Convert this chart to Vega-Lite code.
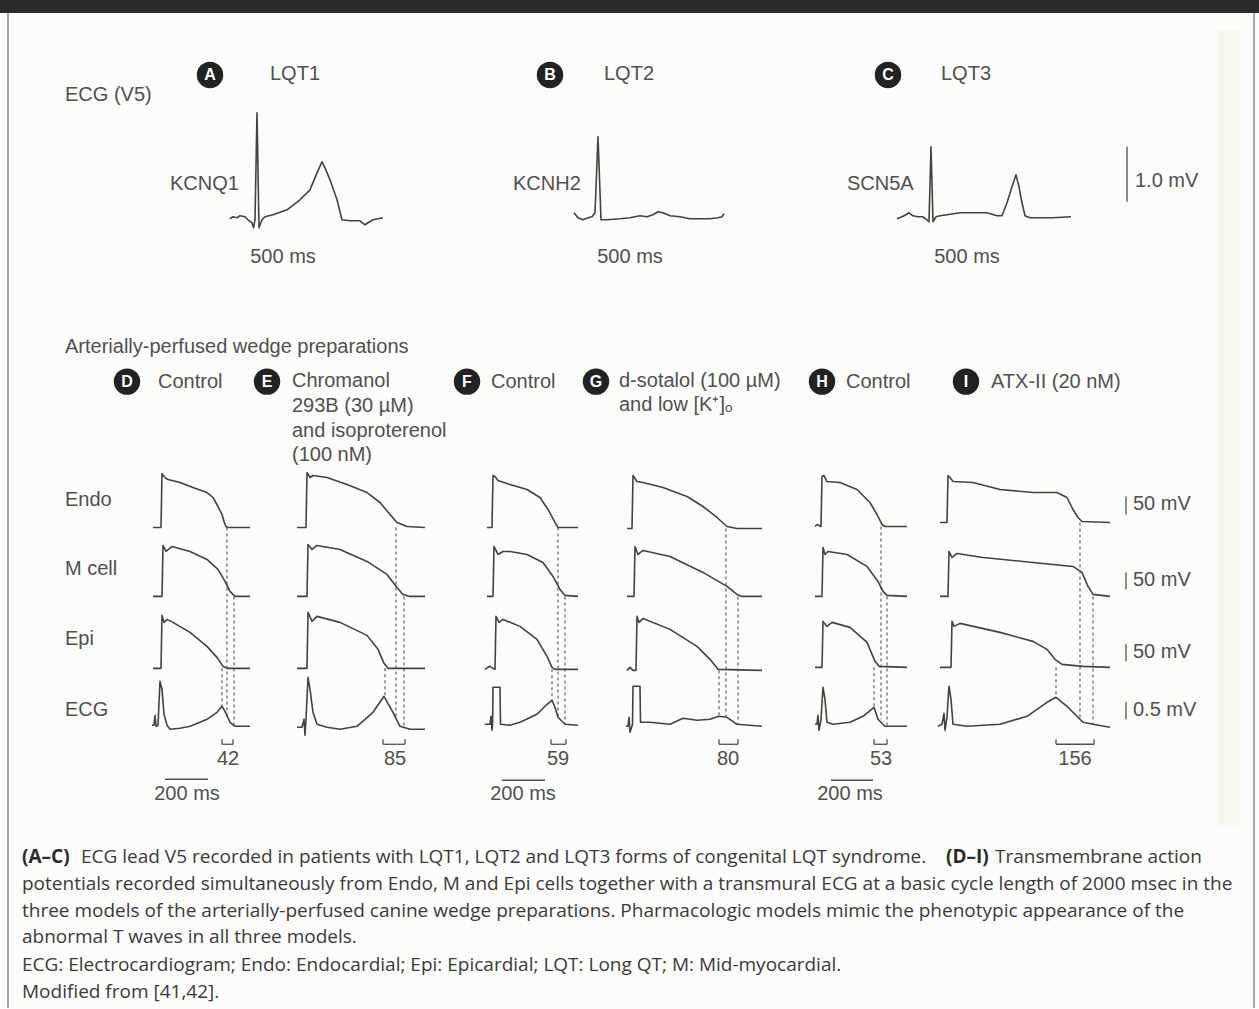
{
  "$schema": "https://vega.github.io/schema/vega-lite/v6.json",
  "width": 1259,
  "height": 1009,
  "autosize": {"type": "fit", "contains": "padding"},
  "padding": 0,
  "background": "#fcfcfa",
  "view": {"stroke": null},
  "config": {"axis": {"disable": true}},
  "datasets": {
    "bands": [
      {"k": "header", "x": 0, "x2": 1259, "y": 0, "y2": 13},
      {"k": "stripe", "x": 1217, "x2": 1240, "y": 30, "y2": 826}
    ],
    "frame": [
      {"x": 8, "x2": 8, "y": 13, "y2": 1009},
      {"x": 1254, "x2": 1254, "y": 13, "y2": 1009}
    ],
    "segs": [
      {"x": 1127, "x2": 1127, "y": 147, "y2": 202},
      {"x": 1126, "x2": 1126, "y": 497, "y2": 515},
      {"x": 1126, "x2": 1126, "y": 573, "y2": 590},
      {"x": 1126, "x2": 1126, "y": 645, "y2": 662},
      {"x": 1126, "x2": 1126, "y": 703, "y2": 720},
      {"x": 165, "x2": 208, "y": 780, "y2": 780},
      {"x": 502, "x2": 545, "y": 781, "y2": 781},
      {"x": 831, "x2": 873, "y": 781, "y2": 781},
      {"x": 222, "x2": 233, "y": 745, "y2": 745},
      {"x": 222, "x2": 222, "y": 740, "y2": 745},
      {"x": 233, "x2": 233, "y": 740, "y2": 745},
      {"x": 383, "x2": 405, "y": 745, "y2": 745},
      {"x": 383, "x2": 383, "y": 740, "y2": 745},
      {"x": 405, "x2": 405, "y": 740, "y2": 745},
      {"x": 551, "x2": 566, "y": 745, "y2": 745},
      {"x": 551, "x2": 551, "y": 740, "y2": 745},
      {"x": 566, "x2": 566, "y": 740, "y2": 745},
      {"x": 719, "x2": 738, "y": 745, "y2": 745},
      {"x": 719, "x2": 719, "y": 740, "y2": 745},
      {"x": 738, "x2": 738, "y": 740, "y2": 745},
      {"x": 874, "x2": 887, "y": 745, "y2": 745},
      {"x": 874, "x2": 874, "y": 740, "y2": 745},
      {"x": 887, "x2": 887, "y": 740, "y2": 745},
      {"x": 1056, "x2": 1094, "y": 745, "y2": 745},
      {"x": 1056, "x2": 1056, "y": 740, "y2": 745},
      {"x": 1094, "x2": 1094, "y": 740, "y2": 745}
    ],
    "dashes": [
      {"x": 222, "y": 669, "y2": 707},
      {"x": 227, "y": 528, "y2": 718},
      {"x": 234, "y": 597, "y2": 727},
      {"x": 385, "y": 669, "y2": 697},
      {"x": 396, "y": 528, "y2": 718},
      {"x": 404, "y": 597, "y2": 729},
      {"x": 552, "y": 670, "y2": 701},
      {"x": 558, "y": 528, "y2": 718},
      {"x": 565, "y": 597, "y2": 725},
      {"x": 719, "y": 671, "y2": 717},
      {"x": 726, "y": 529, "y2": 718},
      {"x": 738, "y": 597, "y2": 725},
      {"x": 874, "y": 668, "y2": 708},
      {"x": 881, "y": 527, "y2": 720},
      {"x": 887, "y": 597, "y2": 727},
      {"x": 1056, "y": 668, "y2": 698},
      {"x": 1080, "y": 523, "y2": 721},
      {"x": 1093, "y": 597, "y2": 725}
    ],
    "traces": [
      {"g": "A", "x": 230, "y": 219}, {"g": "A", "x": 233, "y": 217}, {"g": "A", "x": 237, "y": 218}, {"g": "A", "x": 240, "y": 216}, {"g": "A", "x": 245, "y": 217}, {"g": "A", "x": 248, "y": 220}, {"g": "A", "x": 252, "y": 223}, {"g": "A", "x": 253.5, "y": 228}, {"g": "A", "x": 255, "y": 220}, {"g": "A", "x": 257, "y": 113}, {"g": "A", "x": 259, "y": 228}, {"g": "A", "x": 262, "y": 220}, {"g": "A", "x": 265, "y": 217}, {"g": "A", "x": 273, "y": 215}, {"g": "A", "x": 287, "y": 210}, {"g": "A", "x": 300, "y": 200}, {"g": "A", "x": 310, "y": 190}, {"g": "A", "x": 317, "y": 173}, {"g": "A", "x": 322, "y": 162}, {"g": "A", "x": 325, "y": 168}, {"g": "A", "x": 330, "y": 180}, {"g": "A", "x": 337, "y": 200}, {"g": "A", "x": 342, "y": 220}, {"g": "A", "x": 350, "y": 221}, {"g": "A", "x": 360, "y": 221}, {"g": "A", "x": 365, "y": 225}, {"g": "A", "x": 368, "y": 223}, {"g": "A", "x": 373, "y": 220}, {"g": "A", "x": 383, "y": 218},
      {"g": "B", "x": 574, "y": 213}, {"g": "B", "x": 578, "y": 218}, {"g": "B", "x": 583, "y": 220}, {"g": "B", "x": 588, "y": 218}, {"g": "B", "x": 592, "y": 217}, {"g": "B", "x": 595, "y": 213}, {"g": "B", "x": 598, "y": 137}, {"g": "B", "x": 601, "y": 220}, {"g": "B", "x": 607, "y": 220}, {"g": "B", "x": 620, "y": 219}, {"g": "B", "x": 630, "y": 218}, {"g": "B", "x": 640, "y": 216}, {"g": "B", "x": 647, "y": 217}, {"g": "B", "x": 653, "y": 215}, {"g": "B", "x": 658, "y": 212}, {"g": "B", "x": 663, "y": 213}, {"g": "B", "x": 670, "y": 216}, {"g": "B", "x": 680, "y": 217}, {"g": "B", "x": 690, "y": 219}, {"g": "B", "x": 700, "y": 219}, {"g": "B", "x": 710, "y": 219}, {"g": "B", "x": 718, "y": 218}, {"g": "B", "x": 722, "y": 217}, {"g": "B", "x": 724, "y": 214},
      {"g": "C", "x": 897, "y": 219}, {"g": "C", "x": 902, "y": 217}, {"g": "C", "x": 906, "y": 215}, {"g": "C", "x": 909, "y": 213}, {"g": "C", "x": 913, "y": 216}, {"g": "C", "x": 918, "y": 217}, {"g": "C", "x": 923, "y": 217}, {"g": "C", "x": 927, "y": 220}, {"g": "C", "x": 929, "y": 222}, {"g": "C", "x": 931, "y": 147}, {"g": "C", "x": 933, "y": 222}, {"g": "C", "x": 936, "y": 217}, {"g": "C", "x": 940, "y": 216}, {"g": "C", "x": 947, "y": 215}, {"g": "C", "x": 960, "y": 213}, {"g": "C", "x": 973, "y": 213}, {"g": "C", "x": 987, "y": 213}, {"g": "C", "x": 997, "y": 216}, {"g": "C", "x": 1002, "y": 216}, {"g": "C", "x": 1007, "y": 203}, {"g": "C", "x": 1012, "y": 187}, {"g": "C", "x": 1016, "y": 175}, {"g": "C", "x": 1019, "y": 187}, {"g": "C", "x": 1022, "y": 203}, {"g": "C", "x": 1025, "y": 216}, {"g": "C", "x": 1030, "y": 218}, {"g": "C", "x": 1040, "y": 218}, {"g": "C", "x": 1053, "y": 218}, {"g": "C", "x": 1071, "y": 217},

      {"g": "D1", "x": 153, "y": 528}, {"g": "D1", "x": 161, "y": 528}, {"g": "D1", "x": 162, "y": 474}, {"g": "D1", "x": 164, "y": 477}, {"g": "D1", "x": 166, "y": 479}, {"g": "D1", "x": 168, "y": 480}, {"g": "D1", "x": 180, "y": 483}, {"g": "D1", "x": 193, "y": 488}, {"g": "D1", "x": 207, "y": 493}, {"g": "D1", "x": 213, "y": 498}, {"g": "D1", "x": 218, "y": 507}, {"g": "D1", "x": 222, "y": 515}, {"g": "D1", "x": 224, "y": 522}, {"g": "D1", "x": 226, "y": 527}, {"g": "D1", "x": 228, "y": 528}, {"g": "D1", "x": 250, "y": 528},
      {"g": "D2", "x": 153, "y": 597}, {"g": "D2", "x": 162, "y": 597}, {"g": "D2", "x": 163, "y": 546}, {"g": "D2", "x": 166, "y": 552}, {"g": "D2", "x": 172, "y": 547}, {"g": "D2", "x": 190, "y": 552}, {"g": "D2", "x": 207, "y": 560}, {"g": "D2", "x": 218, "y": 570}, {"g": "D2", "x": 225, "y": 582}, {"g": "D2", "x": 230, "y": 592}, {"g": "D2", "x": 235, "y": 597}, {"g": "D2", "x": 250, "y": 597},
      {"g": "D3", "x": 153, "y": 669}, {"g": "D3", "x": 161, "y": 669}, {"g": "D3", "x": 162, "y": 616}, {"g": "D3", "x": 164, "y": 623}, {"g": "D3", "x": 167, "y": 620}, {"g": "D3", "x": 173, "y": 623}, {"g": "D3", "x": 190, "y": 633}, {"g": "D3", "x": 207, "y": 647}, {"g": "D3", "x": 217, "y": 658}, {"g": "D3", "x": 223, "y": 667}, {"g": "D3", "x": 227, "y": 669}, {"g": "D3", "x": 250, "y": 669},
      {"g": "D4", "x": 152, "y": 726}, {"g": "D4", "x": 154, "y": 726}, {"g": "D4", "x": 155, "y": 716}, {"g": "D4", "x": 156, "y": 727}, {"g": "D4", "x": 158, "y": 726}, {"g": "D4", "x": 160, "y": 682}, {"g": "D4", "x": 162, "y": 690}, {"g": "D4", "x": 164, "y": 715}, {"g": "D4", "x": 167, "y": 726}, {"g": "D4", "x": 170, "y": 730}, {"g": "D4", "x": 180, "y": 729}, {"g": "D4", "x": 190, "y": 727}, {"g": "D4", "x": 200, "y": 723}, {"g": "D4", "x": 207, "y": 720}, {"g": "D4", "x": 217, "y": 713}, {"g": "D4", "x": 222, "y": 707}, {"g": "D4", "x": 225, "y": 712}, {"g": "D4", "x": 230, "y": 723}, {"g": "D4", "x": 235, "y": 727}, {"g": "D4", "x": 250, "y": 727},

      {"g": "E1", "x": 297, "y": 528}, {"g": "E1", "x": 306, "y": 528}, {"g": "E1", "x": 307, "y": 473}, {"g": "E1", "x": 310, "y": 478}, {"g": "E1", "x": 313, "y": 476}, {"g": "E1", "x": 327, "y": 478}, {"g": "E1", "x": 347, "y": 485}, {"g": "E1", "x": 367, "y": 493}, {"g": "E1", "x": 380, "y": 503}, {"g": "E1", "x": 390, "y": 515}, {"g": "E1", "x": 397, "y": 523}, {"g": "E1", "x": 407, "y": 527}, {"g": "E1", "x": 425, "y": 528},
      {"g": "E2", "x": 297, "y": 597}, {"g": "E2", "x": 307, "y": 597}, {"g": "E2", "x": 308, "y": 545}, {"g": "E2", "x": 312, "y": 550}, {"g": "E2", "x": 317, "y": 546}, {"g": "E2", "x": 340, "y": 550}, {"g": "E2", "x": 367, "y": 562}, {"g": "E2", "x": 387, "y": 575}, {"g": "E2", "x": 397, "y": 588}, {"g": "E2", "x": 403, "y": 595}, {"g": "E2", "x": 410, "y": 597}, {"g": "E2", "x": 425, "y": 597},
      {"g": "E3", "x": 297, "y": 669}, {"g": "E3", "x": 307, "y": 669}, {"g": "E3", "x": 308, "y": 613}, {"g": "E3", "x": 312, "y": 622}, {"g": "E3", "x": 317, "y": 617}, {"g": "E3", "x": 340, "y": 623}, {"g": "E3", "x": 367, "y": 636}, {"g": "E3", "x": 378, "y": 650}, {"g": "E3", "x": 384, "y": 664}, {"g": "E3", "x": 388, "y": 669}, {"g": "E3", "x": 425, "y": 669},
      {"g": "E4", "x": 297, "y": 728}, {"g": "E4", "x": 302, "y": 728}, {"g": "E4", "x": 304, "y": 720}, {"g": "E4", "x": 305, "y": 736}, {"g": "E4", "x": 306, "y": 720}, {"g": "E4", "x": 308, "y": 678}, {"g": "E4", "x": 310, "y": 690}, {"g": "E4", "x": 313, "y": 713}, {"g": "E4", "x": 317, "y": 725}, {"g": "E4", "x": 327, "y": 728}, {"g": "E4", "x": 340, "y": 730}, {"g": "E4", "x": 357, "y": 727}, {"g": "E4", "x": 373, "y": 713}, {"g": "E4", "x": 384, "y": 697}, {"g": "E4", "x": 393, "y": 713}, {"g": "E4", "x": 400, "y": 727}, {"g": "E4", "x": 410, "y": 730}, {"g": "E4", "x": 425, "y": 730},

      {"g": "F1", "x": 487, "y": 528}, {"g": "F1", "x": 492, "y": 528}, {"g": "F1", "x": 493, "y": 476}, {"g": "F1", "x": 495, "y": 477}, {"g": "F1", "x": 498, "y": 481}, {"g": "F1", "x": 510, "y": 485}, {"g": "F1", "x": 527, "y": 490}, {"g": "F1", "x": 540, "y": 498}, {"g": "F1", "x": 548, "y": 510}, {"g": "F1", "x": 555, "y": 523}, {"g": "F1", "x": 558, "y": 528}, {"g": "F1", "x": 578, "y": 528},
      {"g": "F2", "x": 487, "y": 597}, {"g": "F2", "x": 493, "y": 597}, {"g": "F2", "x": 494, "y": 547}, {"g": "F2", "x": 498, "y": 555}, {"g": "F2", "x": 503, "y": 552}, {"g": "F2", "x": 510, "y": 552}, {"g": "F2", "x": 527, "y": 555}, {"g": "F2", "x": 543, "y": 563}, {"g": "F2", "x": 553, "y": 577}, {"g": "F2", "x": 560, "y": 590}, {"g": "F2", "x": 565, "y": 596}, {"g": "F2", "x": 578, "y": 597},
      {"g": "F3", "x": 485, "y": 670}, {"g": "F3", "x": 488, "y": 668}, {"g": "F3", "x": 490, "y": 667}, {"g": "F3", "x": 493, "y": 669}, {"g": "F3", "x": 495, "y": 670}, {"g": "F3", "x": 496, "y": 617}, {"g": "F3", "x": 499, "y": 623}, {"g": "F3", "x": 503, "y": 620}, {"g": "F3", "x": 520, "y": 627}, {"g": "F3", "x": 537, "y": 640}, {"g": "F3", "x": 547, "y": 657}, {"g": "F3", "x": 552, "y": 668}, {"g": "F3", "x": 555, "y": 670}, {"g": "F3", "x": 578, "y": 670},
      {"g": "F4", "x": 485, "y": 725}, {"g": "F4", "x": 490, "y": 725}, {"g": "F4", "x": 491, "y": 717}, {"g": "F4", "x": 492, "y": 731}, {"g": "F4", "x": 492.6, "y": 725}, {"g": "F4", "x": 493, "y": 688}, {"g": "F4", "x": 500, "y": 688}, {"g": "F4", "x": 500.5, "y": 725}, {"g": "F4", "x": 510, "y": 726}, {"g": "F4", "x": 520, "y": 723}, {"g": "F4", "x": 537, "y": 715}, {"g": "F4", "x": 547, "y": 705}, {"g": "F4", "x": 552, "y": 701}, {"g": "F4", "x": 555, "y": 708}, {"g": "F4", "x": 558, "y": 718}, {"g": "F4", "x": 565, "y": 725}, {"g": "F4", "x": 578, "y": 726},

      {"g": "G1", "x": 627, "y": 529}, {"g": "G1", "x": 632, "y": 529}, {"g": "G1", "x": 633, "y": 476}, {"g": "G1", "x": 637, "y": 482}, {"g": "G1", "x": 643, "y": 483}, {"g": "G1", "x": 663, "y": 488}, {"g": "G1", "x": 687, "y": 497}, {"g": "G1", "x": 703, "y": 507}, {"g": "G1", "x": 717, "y": 518}, {"g": "G1", "x": 727, "y": 527}, {"g": "G1", "x": 737, "y": 529}, {"g": "G1", "x": 762, "y": 529},
      {"g": "G2", "x": 627, "y": 597}, {"g": "G2", "x": 634, "y": 597}, {"g": "G2", "x": 635, "y": 547}, {"g": "G2", "x": 638, "y": 555}, {"g": "G2", "x": 643, "y": 551}, {"g": "G2", "x": 670, "y": 557}, {"g": "G2", "x": 703, "y": 573}, {"g": "G2", "x": 727, "y": 587}, {"g": "G2", "x": 737, "y": 595}, {"g": "G2", "x": 742, "y": 597}, {"g": "G2", "x": 762, "y": 597},
      {"g": "G3", "x": 627, "y": 671}, {"g": "G3", "x": 630, "y": 668}, {"g": "G3", "x": 633, "y": 671}, {"g": "G3", "x": 636, "y": 671}, {"g": "G3", "x": 637, "y": 617}, {"g": "G3", "x": 639, "y": 623}, {"g": "G3", "x": 643, "y": 619}, {"g": "G3", "x": 670, "y": 630}, {"g": "G3", "x": 697, "y": 647}, {"g": "G3", "x": 710, "y": 660}, {"g": "G3", "x": 718, "y": 670}, {"g": "G3", "x": 762, "y": 671},
      {"g": "G4", "x": 626, "y": 727}, {"g": "G4", "x": 628, "y": 727}, {"g": "G4", "x": 629, "y": 718}, {"g": "G4", "x": 630, "y": 733}, {"g": "G4", "x": 632.5, "y": 725}, {"g": "G4", "x": 633, "y": 687}, {"g": "G4", "x": 640, "y": 687}, {"g": "G4", "x": 640.5, "y": 723}, {"g": "G4", "x": 650, "y": 723}, {"g": "G4", "x": 670, "y": 725}, {"g": "G4", "x": 683, "y": 719}, {"g": "G4", "x": 697, "y": 721}, {"g": "G4", "x": 710, "y": 720}, {"g": "G4", "x": 719, "y": 717}, {"g": "G4", "x": 727, "y": 718}, {"g": "G4", "x": 737, "y": 725}, {"g": "G4", "x": 762, "y": 727},

      {"g": "H1", "x": 815, "y": 527}, {"g": "H1", "x": 817, "y": 525}, {"g": "H1", "x": 821, "y": 527}, {"g": "H1", "x": 822, "y": 477}, {"g": "H1", "x": 824, "y": 476}, {"g": "H1", "x": 827, "y": 482}, {"g": "H1", "x": 840, "y": 483}, {"g": "H1", "x": 857, "y": 490}, {"g": "H1", "x": 870, "y": 503}, {"g": "H1", "x": 877, "y": 515}, {"g": "H1", "x": 882, "y": 525}, {"g": "H1", "x": 885, "y": 527}, {"g": "H1", "x": 907, "y": 527},
      {"g": "H2", "x": 815, "y": 597}, {"g": "H2", "x": 822, "y": 597}, {"g": "H2", "x": 823, "y": 548}, {"g": "H2", "x": 825, "y": 555}, {"g": "H2", "x": 828, "y": 552}, {"g": "H2", "x": 847, "y": 555}, {"g": "H2", "x": 867, "y": 567}, {"g": "H2", "x": 878, "y": 582}, {"g": "H2", "x": 883, "y": 592}, {"g": "H2", "x": 887, "y": 596}, {"g": "H2", "x": 907, "y": 597},
      {"g": "H3", "x": 815, "y": 668}, {"g": "H3", "x": 822, "y": 668}, {"g": "H3", "x": 823, "y": 622}, {"g": "H3", "x": 827, "y": 627}, {"g": "H3", "x": 832, "y": 623}, {"g": "H3", "x": 850, "y": 628}, {"g": "H3", "x": 867, "y": 643}, {"g": "H3", "x": 875, "y": 662}, {"g": "H3", "x": 879, "y": 667}, {"g": "H3", "x": 907, "y": 668},
      {"g": "H4", "x": 815, "y": 725}, {"g": "H4", "x": 817, "y": 725}, {"g": "H4", "x": 818, "y": 716}, {"g": "H4", "x": 819, "y": 731}, {"g": "H4", "x": 821, "y": 720}, {"g": "H4", "x": 823, "y": 688}, {"g": "H4", "x": 825, "y": 700}, {"g": "H4", "x": 827, "y": 723}, {"g": "H4", "x": 833, "y": 725}, {"g": "H4", "x": 850, "y": 723}, {"g": "H4", "x": 863, "y": 717}, {"g": "H4", "x": 874, "y": 708}, {"g": "H4", "x": 878, "y": 720}, {"g": "H4", "x": 885, "y": 727}, {"g": "H4", "x": 907, "y": 727},

      {"g": "I1", "x": 940, "y": 523}, {"g": "I1", "x": 947, "y": 523}, {"g": "I1", "x": 948, "y": 476}, {"g": "I1", "x": 950, "y": 478}, {"g": "I1", "x": 953, "y": 482}, {"g": "I1", "x": 973, "y": 483}, {"g": "I1", "x": 1000, "y": 490}, {"g": "I1", "x": 1033, "y": 493}, {"g": "I1", "x": 1057, "y": 493}, {"g": "I1", "x": 1067, "y": 498}, {"g": "I1", "x": 1073, "y": 510}, {"g": "I1", "x": 1078, "y": 518}, {"g": "I1", "x": 1082, "y": 522}, {"g": "I1", "x": 1110, "y": 523},
      {"g": "I2", "x": 940, "y": 597}, {"g": "I2", "x": 948, "y": 597}, {"g": "I2", "x": 949, "y": 552}, {"g": "I2", "x": 952, "y": 558}, {"g": "I2", "x": 957, "y": 554}, {"g": "I2", "x": 970, "y": 556}, {"g": "I2", "x": 983, "y": 558}, {"g": "I2", "x": 1033, "y": 563}, {"g": "I2", "x": 1073, "y": 567}, {"g": "I2", "x": 1082, "y": 573}, {"g": "I2", "x": 1088, "y": 587}, {"g": "I2", "x": 1093, "y": 595}, {"g": "I2", "x": 1110, "y": 597},
      {"g": "I3", "x": 940, "y": 668}, {"g": "I3", "x": 951, "y": 668}, {"g": "I3", "x": 952, "y": 622}, {"g": "I3", "x": 954, "y": 627}, {"g": "I3", "x": 960, "y": 624}, {"g": "I3", "x": 1000, "y": 633}, {"g": "I3", "x": 1033, "y": 642}, {"g": "I3", "x": 1047, "y": 650}, {"g": "I3", "x": 1055, "y": 660}, {"g": "I3", "x": 1062, "y": 665}, {"g": "I3", "x": 1083, "y": 667}, {"g": "I3", "x": 1110, "y": 668},
      {"g": "I4", "x": 938, "y": 727}, {"g": "I4", "x": 942, "y": 725}, {"g": "I4", "x": 944, "y": 714}, {"g": "I4", "x": 945, "y": 731}, {"g": "I4", "x": 947, "y": 718}, {"g": "I4", "x": 949, "y": 687}, {"g": "I4", "x": 951, "y": 700}, {"g": "I4", "x": 953, "y": 725}, {"g": "I4", "x": 967, "y": 727}, {"g": "I4", "x": 1000, "y": 725}, {"g": "I4", "x": 1027, "y": 717}, {"g": "I4", "x": 1047, "y": 703}, {"g": "I4", "x": 1056, "y": 698}, {"g": "I4", "x": 1067, "y": 707}, {"g": "I4", "x": 1083, "y": 723}, {"g": "I4", "x": 1093, "y": 725}, {"g": "I4", "x": 1110, "y": 728}
    ],
    "badges": [
      {"t": "A", "x": 210, "y": 75}, {"t": "B", "x": 550, "y": 75}, {"t": "C", "x": 888, "y": 75},
      {"t": "D", "x": 127, "y": 382}, {"t": "E", "x": 267, "y": 382}, {"t": "F", "x": 467, "y": 382},
      {"t": "G", "x": 596, "y": 382}, {"t": "H", "x": 822, "y": 382}, {"t": "I", "x": 966, "y": 382}
    ],
    "labels": [
      {"t": "ECG (V5)", "x": 65, "y": 95},
      {"t": "LQT1", "x": 270, "y": 74},
      {"t": "LQT2", "x": 604, "y": 74},
      {"t": "LQT3", "x": 941, "y": 74},
      {"t": "KCNQ1", "x": 170, "y": 184},
      {"t": "KCNH2", "x": 513, "y": 184},
      {"t": "SCN5A", "x": 847, "y": 184},
      {"t": "1.0 mV", "x": 1135, "y": 181},
      {"t": "Arterially-perfused wedge preparations", "x": 65, "y": 347},
      {"t": "Control", "x": 158, "y": 382},
      {"t": "Chromanol", "x": 292, "y": 381},
      {"t": "293B (30 µM)", "x": 292, "y": 406},
      {"t": "and isoproterenol", "x": 292, "y": 431},
      {"t": "(100 nM)", "x": 292, "y": 455},
      {"t": "Control", "x": 491, "y": 382},
      {"t": "d-sotalol (100 µM)", "x": 619, "y": 381},
      {"t": "and low [K⁺]ₒ", "x": 619, "y": 405},
      {"t": "Control", "x": 846, "y": 382},
      {"t": "ATX-II (20 nM)", "x": 991, "y": 382},
      {"t": "Endo", "x": 65, "y": 500},
      {"t": "M cell", "x": 65, "y": 570},
      {"t": "Epi", "x": 65, "y": 640},
      {"t": "ECG", "x": 65, "y": 711},
      {"t": "50 mV", "x": 1133, "y": 505},
      {"t": "50 mV", "x": 1133, "y": 581},
      {"t": "50 mV", "x": 1133, "y": 653},
      {"t": "0.5 mV", "x": 1133, "y": 711}
    ],
    "centered": [
      {"t": "500 ms", "x": 283, "y": 257},
      {"t": "500 ms", "x": 630, "y": 257},
      {"t": "500 ms", "x": 967, "y": 257},
      {"t": "42", "x": 228, "y": 760},
      {"t": "85", "x": 395, "y": 760},
      {"t": "59", "x": 558, "y": 760},
      {"t": "80", "x": 728, "y": 760},
      {"t": "53", "x": 881, "y": 760},
      {"t": "156", "x": 1075, "y": 760},
      {"t": "200 ms", "x": 187, "y": 795},
      {"t": "200 ms", "x": 523, "y": 795},
      {"t": "200 ms", "x": 850, "y": 795}
    ],
    "caption": [
      {"t": "ECG lead V5 recorded in patients with LQT1, LQT2 and LQT3 forms of congenital LQT syndrome.", "x": 81, "y": 858},
      {"t": "Transmembrane action", "x": 995, "y": 858},
      {"t": "potentials recorded simultaneously from Endo, M and Epi cells together with a transmural ECG at a basic cycle length of 2000 msec in the", "x": 22, "y": 885},
      {"t": "three models of the arterially-perfused canine wedge preparations. Pharmacologic models mimic the phenotypic appearance of the", "x": 22, "y": 912},
      {"t": "abnormal T waves in all three models.", "x": 22, "y": 938},
      {"t": "ECG: Electrocardiogram; Endo: Endocardial; Epi: Epicardial; LQT: Long QT; M: Mid-myocardial.", "x": 22, "y": 966},
      {"t": "Modified from [41,42].", "x": 22, "y": 993}
    ],
    "captionBold": [
      {"t": "(A–C)", "x": 22, "y": 858},
      {"t": "(D–I)", "x": 946, "y": 858}
    ]
  },
  "layer": [
    {
      "data": {"name": "bands"},
      "transform": [{"filter": "datum.k == 'header'"}],
      "mark": {"type": "rect", "color": "#2b2b2b"},
      "encoding": {
        "x": {"field": "x", "type": "quantitative", "scale": {"domain": [0, 1259], "nice": false, "zero": false}},
        "x2": {"field": "x2"},
        "y": {"field": "y", "type": "quantitative", "scale": {"domain": [0, 1009], "nice": false, "zero": false, "reverse": true}},
        "y2": {"field": "y2"}
      }
    },
    {
      "data": {"name": "bands"},
      "transform": [{"filter": "datum.k == 'stripe'"}],
      "mark": {"type": "rect", "color": "#f8f8ef"},
      "encoding": {
        "x": {"field": "x", "type": "quantitative"},
        "x2": {"field": "x2"},
        "y": {"field": "y", "type": "quantitative"},
        "y2": {"field": "y2"}
      }
    },
    {
      "data": {"name": "frame"},
      "mark": {"type": "rule", "color": "#8a8a8a", "strokeWidth": 1.5},
      "encoding": {
        "x": {"field": "x", "type": "quantitative"},
        "x2": {"field": "x2"},
        "y": {"field": "y", "type": "quantitative"},
        "y2": {"field": "y2"}
      }
    },
    {
      "data": {"name": "segs"},
      "mark": {"type": "rule", "color": "#505050", "strokeWidth": 1.3},
      "encoding": {
        "x": {"field": "x", "type": "quantitative"},
        "x2": {"field": "x2"},
        "y": {"field": "y", "type": "quantitative"},
        "y2": {"field": "y2"}
      }
    },
    {
      "data": {"name": "dashes"},
      "mark": {"type": "rule", "color": "#505050", "strokeWidth": 1.1, "strokeDash": [3, 3]},
      "encoding": {
        "x": {"field": "x", "type": "quantitative"},
        "y": {"field": "y", "type": "quantitative"},
        "y2": {"field": "y2"}
      }
    },
    {
      "data": {"name": "traces"},
      "mark": {"type": "line", "color": "#3e453f", "strokeWidth": 1.6, "strokeJoin": "round"},
      "encoding": {
        "x": {"field": "x", "type": "quantitative"},
        "y": {"field": "y", "type": "quantitative"},
        "detail": {"field": "g", "type": "nominal"}
      }
    },
    {
      "data": {"name": "badges"},
      "mark": {"type": "point", "shape": "circle", "filled": true, "color": "#222222", "size": 700, "opacity": 1},
      "encoding": {
        "x": {"field": "x", "type": "quantitative"},
        "y": {"field": "y", "type": "quantitative"}
      }
    },
    {
      "data": {"name": "badges"},
      "mark": {"type": "text", "color": "#ffffff", "font": "Liberation Sans", "fontWeight": "bold", "fontSize": 16, "align": "center", "baseline": "middle"},
      "encoding": {
        "x": {"field": "x", "type": "quantitative"},
        "y": {"field": "y", "type": "quantitative"},
        "text": {"field": "t"}
      }
    },
    {
      "data": {"name": "labels"},
      "mark": {"type": "text", "color": "#505050", "font": "Liberation Sans", "fontSize": 20, "align": "left", "baseline": "middle"},
      "encoding": {
        "x": {"field": "x", "type": "quantitative"},
        "y": {"field": "y", "type": "quantitative"},
        "text": {"field": "t"}
      }
    },
    {
      "data": {"name": "centered"},
      "mark": {"type": "text", "color": "#505050", "font": "Liberation Sans", "fontSize": 20, "align": "center", "baseline": "middle"},
      "encoding": {
        "x": {"field": "x", "type": "quantitative"},
        "y": {"field": "y", "type": "quantitative"},
        "text": {"field": "t"}
      }
    },
    {
      "data": {"name": "caption"},
      "mark": {"type": "text", "color": "#3a3a3a", "font": "Open Sans", "fontSize": 19, "align": "left", "baseline": "middle"},
      "encoding": {
        "x": {"field": "x", "type": "quantitative"},
        "y": {"field": "y", "type": "quantitative"},
        "text": {"field": "t"}
      }
    },
    {
      "data": {"name": "captionBold"},
      "mark": {"type": "text", "color": "#2a2a2a", "font": "Open Sans", "fontWeight": "bold", "fontSize": 19, "align": "left", "baseline": "middle"},
      "encoding": {
        "x": {"field": "x", "type": "quantitative"},
        "y": {"field": "y", "type": "quantitative"},
        "text": {"field": "t"}
      }
    }
  ]
}
